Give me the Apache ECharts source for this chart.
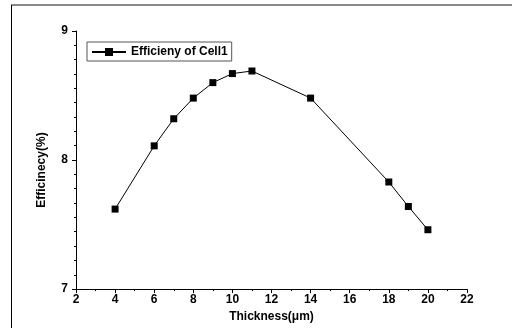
<!DOCTYPE html>
<html>
<head>
<meta charset="utf-8">
<script src="https://cdn.jsdelivr.net/npm/echarts@6/dist/echarts.min.js"></script>
<style>
  html, body { margin: 0; padding: 0; background: #ffffff; }
  #chart { width: 512px; height: 328px; }
</style>
</head>
<body>
<div id="chart"></div>
<script>
// thickness (µm) and efficiency (%)
const thickness = [4, 6, 7, 8, 9, 10, 11, 14, 18, 19, 20]
const efficiency = [7.62, 8.11, 8.32, 8.48, 8.60, 8.67, 8.69, 8.48, 7.83, 7.64, 7.46]
const xTicks = [2, 22, 2] // min, max, interval
const yTicks = [7, 9, 1]

const font = 'Liberation Sans, Arial, sans-serif'
const pts = thickness.map((t, i) => [t, efficiency[i]])

const chart = echarts.init(document.getElementById('chart'))
chart.setOption({
  animation: false,
  grid: { left: 76, right: 45, top: 31, bottom: 38, containLabel: false },
  // frame lines of the original figure
  graphic: [
    { type: 'line', shape: { x1: 11, y1: 5, x2: 512, y2: 5 }, style: { stroke: '#888', lineWidth: 2 }, silent: true },
    { type: 'line', shape: { x1: 11.5, y1: 5, x2: 11.5, y2: 328 }, style: { stroke: '#000', lineWidth: 1 }, silent: true }
  ],
  legend: {
    left: 87,
    top: 42,
    padding: [4, 4, 3, 4],
    borderColor: '#555',
    borderWidth: 1,
    itemWidth: 34,
    itemHeight: 10,
    textStyle: { fontFamily: font, fontWeight: 'bold', fontSize: 12, color: '#000' },
    data: ['Efficieny of Cell1']
  },
  xAxis: {
    type: 'value',
    min: xTicks[0],
    max: xTicks[1],
    interval: xTicks[2],
    name: 'Thickness(μm)',
    nameLocation: 'middle',
    nameGap: 21,
    nameTextStyle: { fontFamily: font, fontWeight: 'bold', fontSize: 12, color: '#000' },
    axisLine: { lineStyle: { color: '#000', width: 1 } },
    axisTick: { length: 4, lineStyle: { color: '#000' } },
    minorTick: { show: true, splitNumber: 2, length: 2, lineStyle: { color: '#000' } },
    splitLine: { show: false },
    axisLabel: { fontFamily: font, fontWeight: 'bold', fontSize: 12, color: '#000', margin: 5 }
  },
  yAxis: {
    type: 'value',
    min: yTicks[0],
    max: yTicks[1],
    interval: yTicks[2],
    name: 'Efficinecy(%)',
    nameLocation: 'middle',
    nameGap: 28,
    nameTextStyle: { fontFamily: font, fontWeight: 'bold', fontSize: 12, color: '#000', padding: [0, 20, 0, 0] },
    axisLine: { show: true, lineStyle: { color: '#000', width: 1 } },
    axisTick: { show: true, length: 4, lineStyle: { color: '#000' } },
    minorTick: { show: true, splitNumber: 9, length: 2, lineStyle: { color: '#000' } },
    splitLine: { show: false },
    axisLabel: { fontFamily: font, fontWeight: 'bold', fontSize: 12, color: '#000', margin: 8 }
  },
  series: [
    {
      name: 'Efficieny of Cell1',
      type: 'line',
      data: pts,
      symbol: 'rect',
      symbolSize: 7,
      itemStyle: { color: '#000' },
      lineStyle: { color: '#000', width: 1 }
    }
  ]
})
</script>
</body>
</html>
